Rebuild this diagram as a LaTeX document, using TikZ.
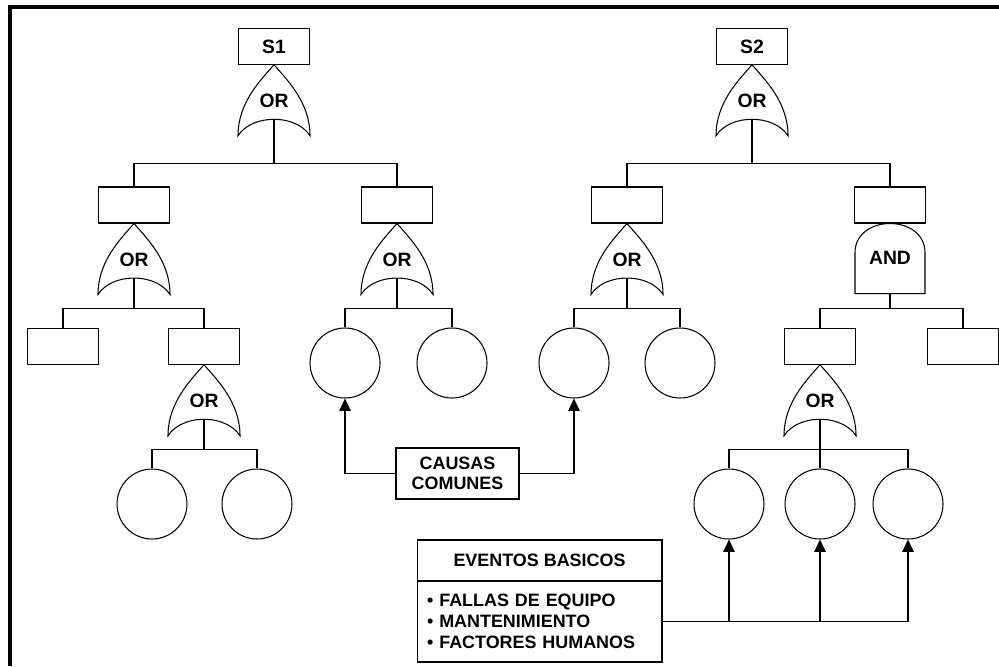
\documentclass[tikz,border=0pt]{standalone}
\usepackage{fontspec}
\setmainfont{Liberation Sans}
\usetikzlibrary{arrows.meta}

\tikzset{
	ereignis/.style={draw, minimum width=1.42cm, minimum height=0.71cm, inner sep=0pt},
	basis/.style={draw, circle, minimum size=1.40cm, inner sep=0pt},
	pfeil/.style={-{Triangle[width=6.5pt,length=7pt]}},
	torfont/.style={font=\fontsize{11}{12}\selectfont\bfseries},
	% ODER-Gatter, Spitze im Ursprung
	odergatter/.pic={
		\draw (0,0) .. controls (-14,16) and (-36,38) .. (-36,71)
			.. controls (-22,49) and (22,49) .. (36,71)
			.. controls (36,38) and (14,16) .. (0,0) -- cycle;
		\node[torfont] (-txt) at (0,36) {OR};
		\coordinate (-out) at (0,54);
	},
	% UND-Gatter, Oberkante im Ursprung
	undgatter/.pic={
		\draw (-35,70) -- (-35,29) .. controls (-35,11) and (-19,0) .. (0,0)
			.. controls (19,0) and (35,11) .. (35,29) -- (35,70) -- cycle;
		\node[torfont] (-txt) at (0,34) {AND};
		\coordinate (-out) at (0,70);
	}
}

\begin{document}
\begin{tikzpicture}[x=0.02cm, y=-0.02cm, line width=0.6pt, font=\fontsize{10.2}{12}\selectfont\bfseries]
	\useasboundingbox (0,0) rectangle (999,666);
	
	% Zeichnet den dicken Rahmen
	\draw[line width=2.3pt] (10,666) -- (10,7) -- (999,7);
	
	% Zeichnet die Top-Ereignisse
	\node[ereignis, torfont] (s1) at (274,46.5) {S1};
	\node[ereignis, torfont] (s2) at (752,46.5) {S2};
	\pic (g1) at (s1.south) {odergatter};
	\pic (g2) at (s2.south) {odergatter};
	
	% Zeichnet die erste Ebene
	\node[ereignis, minimum height=0.72cm] (a) at (134,205) {};
	\node[ereignis, minimum height=0.72cm] (b) at (397,205) {};
	\node[ereignis, minimum height=0.72cm] (c) at (627,205) {};
	\node[ereignis, minimum height=0.72cm] (d) at (890,205) {};
	\pic (ga) at (a.south) {odergatter};
	\pic (gb) at (b.south) {odergatter};
	\pic (gc) at (c.south) {odergatter};
	\pic (gd) at (d.south) {undgatter};
	
	\draw (g1-out) -- ++(0,45) -| (a.north);
	\draw (g1-out) -- ++(0,45) -| (b.north);
	\draw (g2-out) -- ++(0,45) -| (c.north);
	\draw (g2-out) -- ++(0,45) -| (d.north);
	
	% Zeichnet die zweite Ebene
	\node[ereignis] (a1) at (63,346.5) {};
	\node[ereignis] (a2) at (204,346.5) {};
	\node[ereignis] (d1) at (820,346.5) {};
	\node[ereignis] (d2) at (963,346.5) {};
	\pic (ga2) at (a2.south) {odergatter};
	\pic (gd1) at (d1.south) {odergatter};
	
	\draw (ga-out) -- ++(0,31) -| (a1.north);
	\draw (ga-out) -- ++(0,31) -| (a2.north);
	\draw (gd-out) -- ++(0,15) -| (d1.north);
	\draw (gd-out) -- ++(0,15) -| (d2.north);
	
	% Zeichnet die Basisereignisse (Kreise)
	\node[basis] (b1) at (345,363) {};
	\node[basis] (b2) at (452,363) {};
	\node[basis] (c1) at (574,363) {};
	\node[basis] (c2) at (680,363) {};
	\node[basis] (a21) at (152,504) {};
	\node[basis] (a22) at (257,504) {};
	\node[basis] (d11) at (729,504) {};
	\node[basis] (d12) at (820,504) {};
	\node[basis] (d13) at (908,504) {};
	
	\draw (gb-out) -- ++(0,31) -| (b1.north);
	\draw (gb-out) -- ++(0,31) -| (b2.north);
	\draw (gc-out) -- ++(0,31) -| (c1.north);
	\draw (gc-out) -- ++(0,31) -| (c2.north);
	\draw (ga2-out) -- ++(0,31) -| (a21.north);
	\draw (ga2-out) -- ++(0,31) -| (a22.north);
	\draw (gd1-out) -- ++(0,31) -| (d11.north);
	\draw (gd1-out) -- (d12.north);
	\draw (gd1-out) -- ++(0,31) -| (d13.north);
	
	% Zeichnet die gemeinsamen Ursachen
	\node[draw, align=center, minimum width=2.46cm, minimum height=1.02cm, inner sep=0pt,
		font=\fontsize{10.2}{11.5}\selectfont\bfseries] (cc) at (457.5,473.5) {CAUSAS\\COMUNES};
	\draw[pfeil] (cc.west) -| (b1.south);
	\draw[pfeil] (cc.east) -| (c1.south);
	
	% Zeichnet den Kasten der Basisereignisse
	\node[draw, minimum width=4.9cm, minimum height=0.82cm, inner sep=0pt] (eb) at (539.5,560.5) {EVENTOS BASICOS};
	\node[draw, minimum width=4.9cm, minimum height=1.62cm, text width=4.5cm, inner xsep=0.2cm,
		align=left, font=\fontsize{10.2}{11.9}\selectfont\bfseries] (el) at (539.5,621.5)
		{\textbullet\ FALLAS DE EQUIPO\\\textbullet\ MANTENIMIENTO\\\textbullet\ FACTORES HUMANOS};
	\draw[pfeil] (el.east) -| (d11.south);
	\draw[pfeil] (el.east) -| (d12.south);
	\draw[pfeil] (el.east) -| (d13.south);
	
\end{tikzpicture}
\end{document}
